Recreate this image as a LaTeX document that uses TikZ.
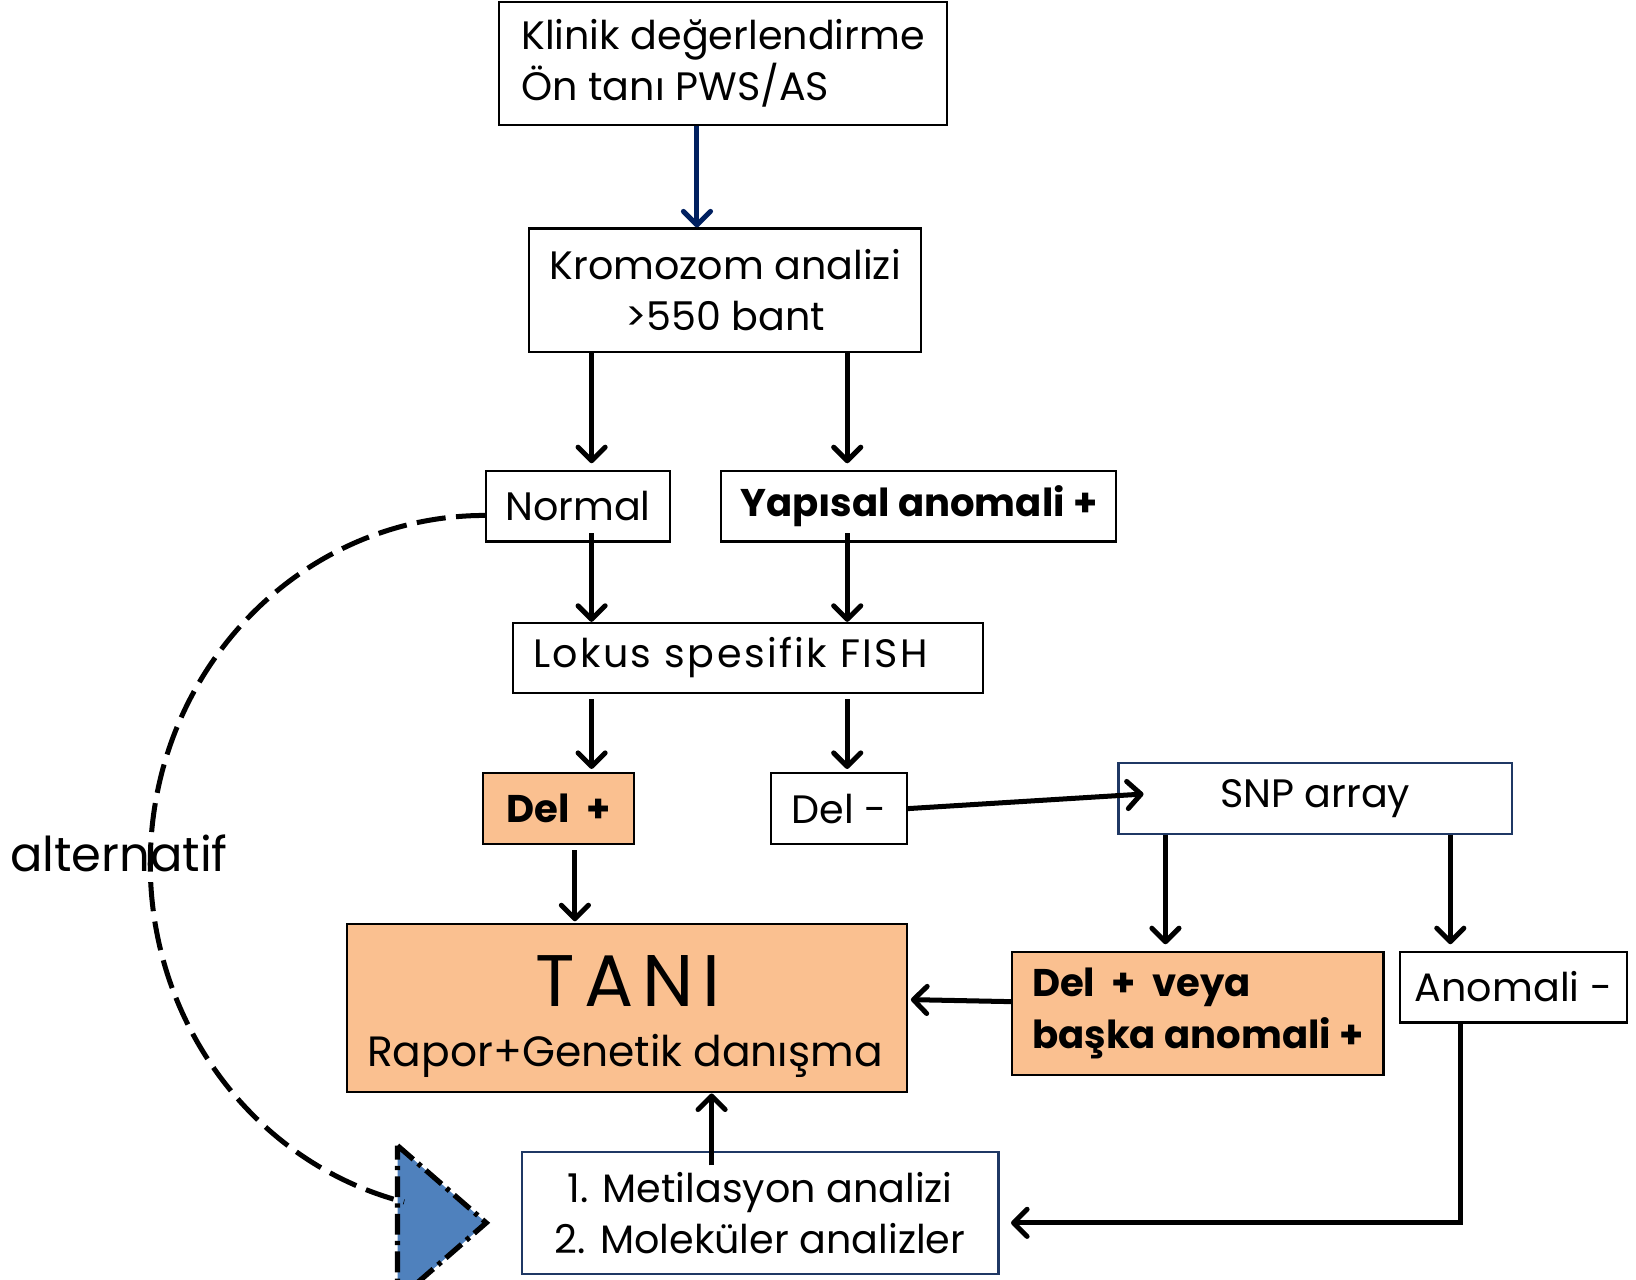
\documentclass[tikz,border=0pt]{standalone}
\usepackage{fontspec}
\setmainfont{Poppins}
\usetikzlibrary{arrows.meta,calc}
\definecolor{peach}{HTML}{FAC090}
\definecolor{navy}{HTML}{1F3864}
\definecolor{darkblue}{HTML}{002060}
\definecolor{triblue}{HTML}{4F81BD}
\newcommand\boxfont{\fontsize{19pt}{24.5pt}\selectfont}
\newcommand\boldboxfont{\fontsize{18.5pt}{25pt}\selectfont\bfseries}
\begin{document}
\begin{tikzpicture}[x=0.5pt,y=-0.5pt,
  wh/.style 2 args={minimum width=#1*0.5pt, minimum height=#2*0.5pt},
  box/.style={draw, line width=1pt, inner sep=0pt, font=\boxfont},
  boldbox/.style={box, font=\boldboxfont},
  arr/.style={line width=2.4pt, -{Straight Barb[round,length=6.5pt,width=13pt,line width=2.4pt]}},
  flow/.style={line width=2.4pt, dash pattern=on 14pt off 5pt},
]
\useasboundingbox (0,0) rectangle (1568,1226);

% boxes
\node[box, wh={430}{118}, align=left] (klinik) at (693,61)
  {Klinik değerlendirme\\Ön tanı PWS/AS};
\node[box, wh={376}{118}, align=center] (krom) at (695,278) {Kromozom analizi\\>550 bant};
\node[box, wh={176}{68}] (normal) at (554,485) {Normal};
\node[boldbox, wh={379}{68}] (yap) at (880.5,485) {Yapısal anomali +};
\node[box, wh={450}{67}, inner xsep=9.5pt, text width=206pt, align=left] (fish) at (717,630.5)
  {\addfontfeature{LetterSpace=6}Lokus spesifik FISH};
\node[boldbox, fill=peach, wh={145}{68}] (delp) at (535.5,775) {Del\ \ +};
\node[box, wh={130}{68}] (delm) at (804,775) {Del -};
\node[box, draw=navy, wh={377}{68}] (snp) at (1260.5,765) {SNP array};
\node[box, fill=peach, wh={536}{161}] (tani) at (601,966.5) {};
\node[font=\fontsize{35pt}{35pt}\selectfont, inner sep=0pt] (tanititle) at (602,940)
  {\addfontfeature{LetterSpace=12}TANI};
\node[font=\fontsize{20.3pt}{26pt}\selectfont, inner sep=0pt] (tanisub) at (599,1012)
  {Rapor+Genetik danışma};
\node[boldbox, fill=peach, wh={356}{118}, align=left] (dv) at (1148,971)
  {Del\ \ +\ \ veya\\başka anomali +};
\node[box, wh={217}{68}] (anom) at (1450.5,946) {Anomali -};
\node[box, draw=navy, wh={457}{117}, align=center] (met) at (728.5,1162.5)
  {1. Metilasyon analizi\\2. Moleküler analizler};
\node[font=\fontsize{23pt}{28pt}\selectfont] (alt) at (114,818) {alternatif};

% column positions of the vertical connectors
\coordinate (cA) at (668,0);
\coordinate (cL) at (567,0);
\coordinate (cR) at (812,0);
\coordinate (cD) at (551,0);
\coordinate (cM) at (682,0);
\coordinate (cS) at (1117,0);
\coordinate (cT) at (1390,0);
\coordinate (bend) at (1400,1172);

% connectors
\draw[arr, darkblue] (klinik.south -| cA) -- (krom.north -| cA);
\draw[arr, shorten >=3pt] (krom.south -| cL) -- (normal.north -| cL);
\draw[arr, shorten >=3pt] (krom.south -| cR) -- (yap.north -| cR);
\draw[arr, shorten <=-4.5pt] (normal.south -| cL) -- (fish.north -| cL);
\draw[arr, shorten <=-4.5pt] (yap.south -| cR) -- (fish.north -| cR);
\draw[arr, shorten <=2.5pt, shorten >=1.5pt] (fish.south -| cL) -- (delp.north -| cL);
\draw[arr, shorten <=2.5pt, shorten >=1.5pt] (fish.south -| cR) -- (delm.north -| cR);
\draw[arr] (delm.east) -- ([xshift=12.5pt,yshift=2pt]snp.west);
\draw[arr, shorten <=2.5pt, shorten >=1pt] (delp.south -| cD) -- (tani.north -| cD);
\draw[arr, shorten >=3pt] (snp.south -| cS) -- (dv.north -| cS);
\draw[arr, shorten >=3pt] (snp.south -| cT) -- (anom.north -| cT);
\draw[arr, shorten >=1.5pt] ([yshift=5.5pt]dv.west) -- ([yshift=4.25pt]tani.east);
\draw[arr, shorten <=-7pt] (met.north -| cM) -- (tani.south -| cM);
\draw[arr, shorten >=5.5pt] (anom.south -| bend) -- (bend) -- (met.east |- bend);

% alternative route: dashed arc from Normal to the blue marker
\fill[triblue] (381,1098) -- (466,1172) -- (381,1246) -- cycle;
\draw[line width=2.5pt, dash pattern=on 10pt off 3pt on 2pt off 3pt] (381,1098) -- (466,1172) -- (381,1246) -- cycle;
\draw[flow] ([yshift=-4.5pt]normal.west) arc[start angle=270, end angle=104, x radius=321, y radius=334];
\end{tikzpicture}
\end{document}
